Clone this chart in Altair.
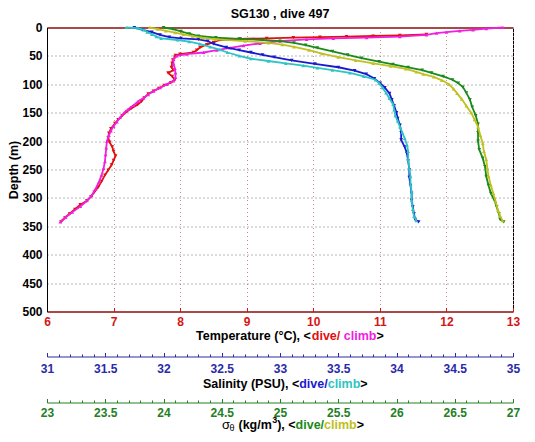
import altair as alt
import pandas as pd

TITLE = "SG130 , dive 497"
FONT = "Liberation Sans"

DEPTH_TICKS = [0, 50, 100, 150, 200, 250, 300, 350, 400, 450, 500]
TEMP_TICKS = [6, 7, 8, 9, 10, 11, 12, 13]
SAL_TICKS = [31, 31.5, 32, 32.5, 33, 33.5, 34, 34.5, 35]
SAL_MINOR = [round(31 + 0.1 * k, 1) for k in range(41)]
SIG_TICKS = [23, 23.5, 24, 24.5, 25, 25.5, 26, 26.5, 27]
SIG_MINOR = [round(23 + 0.1 * k, 1) for k in range(41)]

# Temperature, dive (red)
T_DIVE_DEPTH = [12, 14, 15, 16, 17, 18, 19, 20, 22, 26, 30, 35, 40, 44, 47, 49, 52, 57, 63, 70,
                75, 80, 86, 92, 97, 102, 107, 112, 117, 124, 130, 136, 142, 148, 155, 162, 169, 178, 186, 194,
                202, 210, 218, 226, 234, 242, 251, 260, 271, 281, 290, 298, 305, 312, 320, 328, 335, 342]
T_DIVE = [11.7, 11.3, 10.9, 10.5, 10.1, 9.7, 9.3, 8.9, 8.6, 8.5, 8.4, 8.3, 8.25, 8.2, 8.0, 7.93, 7.92, 7.89, 7.88, 7.87,
          7.9, 7.82, 7.88, 7.92, 7.86, 7.76, 7.68, 7.6, 7.52, 7.46, 7.42, 7.36, 7.27, 7.2, 7.13, 7.07, 7.02, 6.96, 6.93, 6.92,
          6.94, 6.98, 7.0, 7.03, 7.0, 6.97, 6.92, 6.87, 6.82, 6.77, 6.71, 6.66, 6.6, 6.5, 6.42, 6.34, 6.27, 6.21]

# Temperature, climb (magenta)
T_CLIMB_DEPTH = [0, 2, 4, 6, 8, 10, 13, 16, 18, 19, 21, 24, 28, 32, 36, 40, 44, 47, 50, 56,
                 64, 72, 80, 88, 94, 100, 106, 112, 118, 124, 130, 137, 144, 150, 158, 166, 174, 182, 190, 200,
                 212, 224, 236, 248, 260, 272, 284, 296, 305, 315, 325, 334, 342]
T_CLIMB = [12.85, 12.6, 12.4, 12.2, 12.0, 11.85, 11.7, 11.3, 10.8, 10.3, 9.9, 9.5, 9.2, 8.95, 8.75, 8.55, 8.35, 8.1, 7.95, 7.9,
           7.9, 7.92, 7.93, 7.93, 7.9, 7.8, 7.7, 7.6, 7.52, 7.45, 7.37, 7.3, 7.22, 7.16, 7.1, 7.05, 7.0, 6.96, 6.93, 6.9,
           6.89, 6.88, 6.87, 6.85, 6.82, 6.78, 6.73, 6.67, 6.6, 6.5, 6.38, 6.28, 6.2]

# Salinity, dive (blue)
S_DIVE_DEPTH = [0, 4, 8, 13, 17, 19, 21, 24, 29, 35, 40, 44, 48, 52, 58, 64, 70, 76, 82, 90,
                98, 106, 116, 127, 138, 150, 160, 172, 185, 198, 210, 222, 235, 250, 264, 278, 292, 304, 316, 328,
                338, 342]
S_DIVE = [31.75, 31.82, 31.9, 31.97, 32.05, 32.15, 32.3, 32.38, 32.43, 32.54, 32.65, 32.75, 32.85, 32.95, 33.1, 33.3, 33.5, 33.64, 33.74, 33.81,
          33.86, 33.9, 33.94, 33.96, 33.98, 34.0, 34.01, 34.03, 34.04, 34.04, 34.07, 34.09, 34.1, 34.11, 34.11, 34.12, 34.13, 34.13, 34.14, 34.15,
          34.16, 34.19]

# Salinity, climb (cyan)
S_CLIMB_DEPTH = [0, 1, 4, 8, 12, 16, 19, 22, 25, 29, 34, 39, 44, 50, 55, 59, 63, 67, 71, 75,
                 80, 86, 92, 98, 106, 115, 125, 135, 145, 155, 165, 175, 185, 195, 207, 218, 232, 248, 262, 276,
                 290, 305, 320, 332, 340]
S_CLIMB = [31.68, 31.78, 31.83, 31.86, 31.9, 31.94, 31.98, 32.12, 32.22, 32.31, 32.4, 32.48, 32.55, 32.65, 32.75, 32.9, 33.05, 33.2, 33.32, 33.45,
           33.6, 33.72, 33.82, 33.85, 33.88, 33.91, 33.94, 33.97, 33.98, 33.99, 34.01, 34.03, 34.05, 34.07, 34.09, 34.1, 34.1, 34.11, 34.12, 34.12,
           34.13, 34.13, 34.14, 34.15, 34.17]

# Sigma-theta, dive (green)
SIG_DIVE_DEPTH = [0, 3, 7, 11, 15, 18, 20, 22, 24, 27, 31, 36, 42, 48, 54, 60, 65, 70, 75, 80,
                  86, 92, 98, 105, 115, 127, 140, 155, 170, 185, 200, 215, 230, 245, 262, 278, 292, 304, 316, 328,
                  338, 342]
SIG_DIVE = [24.0, 24.08, 24.15, 24.22, 24.3, 24.45, 24.65, 24.85, 25.0, 25.12, 25.22, 25.32, 25.45, 25.58, 25.7, 25.85, 25.97, 26.1, 26.22, 26.3,
            26.4, 26.48, 26.53, 26.57, 26.6, 26.63, 26.65, 26.68, 26.7, 26.7, 26.7, 26.71, 26.74, 26.76, 26.77, 26.79, 26.81, 26.84, 26.86, 26.88,
            26.89, 26.92]

# Sigma-theta, climb (olive)
SIG_CLIMB_DEPTH = [0, 3, 6, 9, 12, 15, 18, 21, 24, 27, 30, 34, 40, 46, 52, 58, 63, 68, 73, 78,
                   82, 87, 93, 100, 108, 116, 126, 138, 150, 162, 175, 190, 204, 218, 232, 248, 262, 278, 292, 306,
                   321, 332, 340]
SIG_CLIMB = [23.88, 23.95, 24.02, 24.1, 24.17, 24.25, 24.33, 24.45, 24.7, 24.9, 25.02, 25.12, 25.25, 25.36, 25.5, 25.65, 25.8, 25.95, 26.08, 26.17,
             26.23, 26.32, 26.39, 26.45, 26.49, 26.52, 26.56, 26.6, 26.64, 26.67, 26.7, 26.72, 26.74, 26.75, 26.77, 26.78, 26.79, 26.81, 26.83, 26.85,
             26.87, 26.89, 26.91]

RED, MAGENTA = "#e01010", "#f020e0"
BLUE, CYAN = "#1a1ad0", "#2ec4c4"
GREEN, OLIVE = "#1a8a1a", "#c0c020"
T_AX, S_AX, G_AX = "#d61515", "#2a2aa8", "#238023"

W, H = 466, 284
S_LINE, G_LINE = 329, 375   # axis line positions below the top of the plot


def profile(depth, value):
    return pd.DataFrame({"depth": depth, "value": value, "i": list(range(len(depth)))})


y_axis = alt.Axis(values=DEPTH_TICKS, title="Depth (m)", grid=True, gridColor="#707070",
                  gridDash=[1, 3], gridWidth=1, ticks=False, domain=True, domainColor="black",
                  labelColor="black", labelFontSize=12, labelFontWeight="bold", labelPadding=5,
                  labelFlush=False, format="d", titleFontSize=12.5, titleFontWeight="bold",
                  titleColor="black", titlePadding=1)
Y = alt.Y("depth:Q", scale=alt.Scale(domain=[0, 500], reverse=True, nice=False, zero=False), axis=y_axis)


def series(df, color, shape, domain, axis):
    return alt.Chart(df).mark_line(
        color=color, strokeWidth=1.8, clip=False,
        point=alt.OverlayMarkDef(shape=shape, size=14, filled=True, color=color)
    ).encode(
        x=alt.X("value:Q", scale=alt.Scale(domain=domain, nice=False, zero=False), axis=axis),
        y=Y,
        order=alt.Order("i:Q"),
    )


lbl = dict(labelFontSize=12, labelFontWeight="bold", labelBaseline="middle", labelFlush=False, format="~g")

ax_t_top = alt.Axis(orient="top", offset=0, values=TEMP_TICKS, labels=False, ticks=False, domain=True,
                    domainColor=T_AX, grid=True, gridColor="#c98a8a", gridDash=[1, 3], gridWidth=1, title=None)
ax_t_bot = alt.Axis(orient="top", offset=-H, values=TEMP_TICKS, ticks=True, tickSize=4, tickColor=T_AX,
                    domain=True, domainColor=T_AX, labelColor=T_AX, labelPadding=-14, grid=False, title=None, **lbl)
ax_s_major = alt.Axis(orient="top", offset=-S_LINE, values=SAL_TICKS, ticks=True, tickSize=4, tickColor=S_AX,
                      domain=True, domainColor=S_AX, labelColor=S_AX, labelPadding=-16, grid=False, title=None, **lbl)
ax_s_minor = alt.Axis(orient="top", offset=-S_LINE, values=SAL_MINOR, ticks=True, tickSize=2.5, tickColor=S_AX,
                      domain=False, labels=False, grid=False, title=None)
ax_g_major = alt.Axis(orient="top", offset=-G_LINE, values=SIG_TICKS, ticks=True, tickSize=4, tickColor=G_AX,
                      domain=True, domainColor=G_AX, labelColor=G_AX, labelPadding=-13.5, grid=False, title=None, **lbl)
ax_g_minor = alt.Axis(orient="top", offset=-G_LINE, values=SIG_MINOR, ticks=True, tickSize=2.5, tickColor=G_AX,
                      domain=False, labels=False, grid=False, title=None)

layers = [
    series(profile(T_DIVE_DEPTH, T_DIVE), RED, "triangle-down", [6, 13], ax_t_top),
    series(profile(T_CLIMB_DEPTH, T_CLIMB), MAGENTA, "triangle-up", [6, 13], ax_t_bot),
    series(profile(S_DIVE_DEPTH, S_DIVE), BLUE, "triangle-down", [31, 35], ax_s_major),
    series(profile(S_CLIMB_DEPTH, S_CLIMB), CYAN, "triangle-up", [31, 35], ax_s_minor),
    series(profile(SIG_DIVE_DEPTH, SIG_DIVE), GREEN, "triangle-down", [23, 27], ax_g_major),
    series(profile(SIG_CLIMB_DEPTH, SIG_CLIMB), OLIVE, "triangle-up", [23, 27], ax_g_minor),
]


def text(t, x, y, color="black", size=12.5, weight="bold", dy=0):
    return alt.Chart(pd.DataFrame({"t": [t]})).mark_text(
        align="left", baseline="middle", font=FONT, fontSize=size, fontWeight=weight, color=color, dy=dy
    ).encode(x=alt.value(x), y=alt.value(y), text="t:N")


tx, ty = 149, 308.5
sx, sy = 156, 356.5
gx, gy = 175, 397.5
texts = [
    text("Temperature (°C), <", tx, ty),
    text("dive/", tx + 115.8, ty, RED),
    text("climb", tx + 147.8, ty, MAGENTA),
    text(">", tx + 180.4, ty),
    text("Salinity (PSU), <", sx, sy),
    text("dive/", sx + 96.2, sy, BLUE),
    text("climb", sx + 124.7, sy, CYAN),
    text(">", sx + 157.35, sy),
    text("σ", gx, gy, size=13, weight="normal"),
    text("θ", gx + 7.6, gy, size=9, weight="normal", dy=3),
    text("(kg/m", gx + 16.5, gy),
    text("3", gx + 50.2, gy, size=9, dy=-5),
    text("), <", gx + 55.2, gy),
    text("dive/", gx + 73.6, gy, GREEN),
    text("climb", gx + 102.1, gy, OLIVE),
    text(">", gx + 134.75, gy),
]

chart = alt.layer(*layers, *texts).resolve_scale(x="independent").properties(
    width=W, height=H,
    title=alt.TitleParams(text=TITLE, font=FONT, fontSize=12.5, fontWeight="bold", color="black",
                          anchor="middle", offset=1),
    padding={"left": 39, "top": 19.5, "right": 14, "bottom": 122},
    autosize=alt.AutoSizeParams(type="none"),
).configure_view(stroke="black", strokeWidth=1).configure_axis(labelFont=FONT, titleFont=FONT)

chart.save("out.html", embed_options={"renderer": "svg", "actions": False})
